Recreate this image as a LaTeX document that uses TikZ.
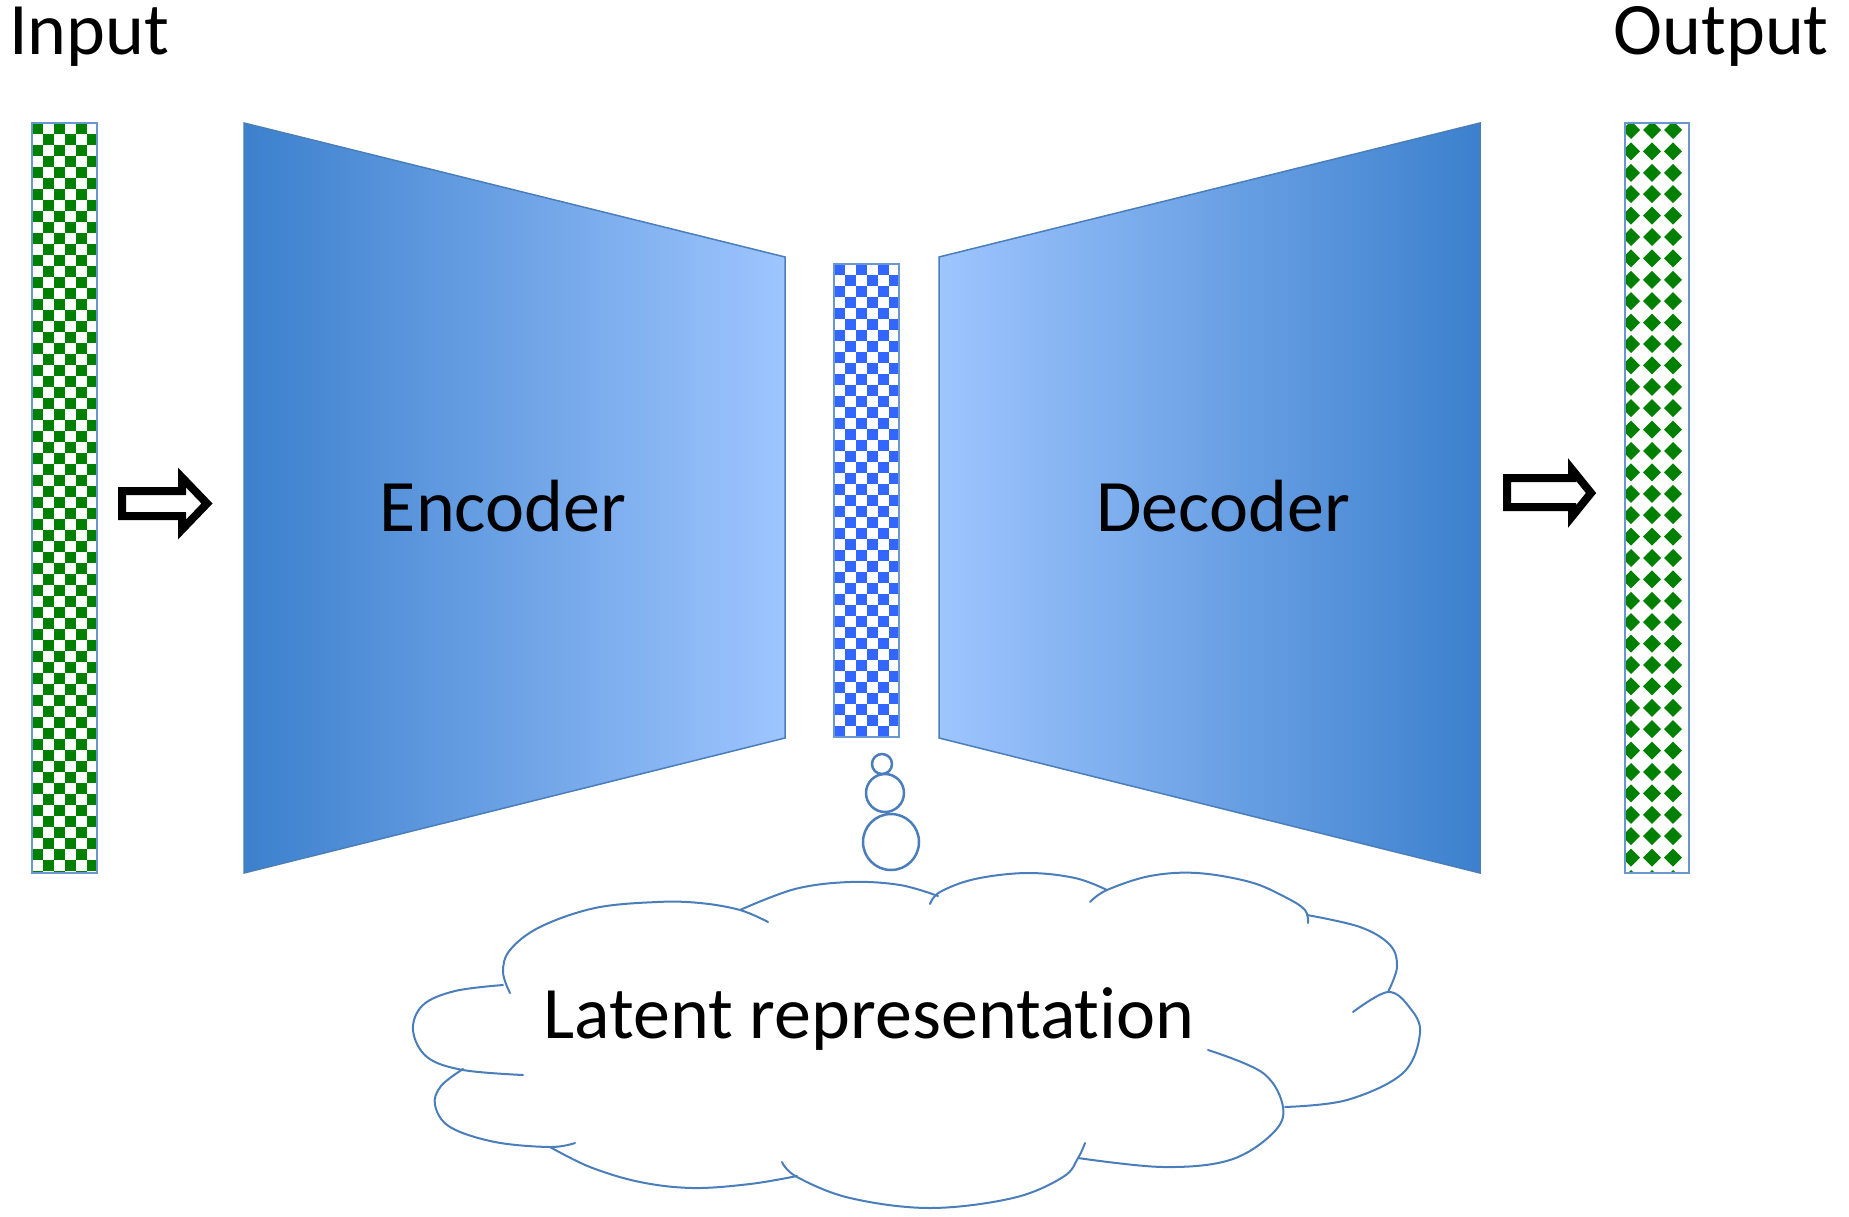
\documentclass[tikz,border=0pt]{standalone}
\usepackage{fontspec}
\setmainfont{Carlito}[Ligatures=NoCommon]
\definecolor{cloudblue}{HTML}{4A7EBB}
\definecolor{barblue}{HTML}{6A97D0}
\definecolor{darkblue}{HTML}{3C80CD}
\definecolor{lightblue}{HTML}{9EC5FE}
\definecolor{pgreen}{HTML}{008000}
\definecolor{pblue}{HTML}{3366FF}
\tikzset{
  lbl/.style={font=\fontsize{74}{80}\selectfont, inner sep=0pt},
  bump/.style={draw=cloudblue, line width=2pt, line cap=round},
  hollowarrow/.style={draw=black, fill=white, line width=8pt, line join=miter, miter limit=10},
  barframe/.style={draw=barblue, line width=2pt},
  trap/.style={draw=cloudblue, line width=1.5pt},
  bubble/.style={draw=cloudblue, line width=2.5pt},
}
\begin{document}
\begin{tikzpicture}[x=1pt,y=-1pt]
\useasboundingbox (0,0) rectangle (1849,1217);
% titles
\node[lbl, anchor=base west] (inp) at (9,55) {Input};
\node[lbl, anchor=base east] (outp) at (1829,55) {Output};
% input bar (checkerboard)
\begin{scope}
  \clip (32,123) rectangle (97,873);
  \fill[white] (32,123) rectangle (97,873);
  \foreach \j in {0,...,68} {
    \pgfmathsetmacro\off{mod(\j,2)*11}
    \foreach \i in {0,22,44,66}
      \fill[pgreen] ({32+\i+\off},{123+\j*11}) rectangle ++(11,11);
  }
\end{scope}
\draw[barframe] (32,123) rectangle (97,873);
% latent bar
\begin{scope}
  \clip (834,264) rectangle (899,737);
  \fill[white] (834,264) rectangle (899,737);
  \foreach \j in {0,...,43} {
    \pgfmathsetmacro\off{mod(\j,2)*11}
    \foreach \i in {0,22,44,66}
      \fill[pblue] ({834+\i+\off},{264+\j*11}) rectangle ++(11,11);
  }
\end{scope}
\draw[barframe] (834,264) rectangle (899,737);
% output bar (diamonds)
\begin{scope}
  \clip (1625,123) rectangle (1689,873);
  \fill[white] (1625,123) rectangle (1689,873);
  \foreach \j in {0,...,35} {
    \foreach \i in {0,1,2}
      \fill[pgreen] ({1631+\i*21},{130+\j*21.4-9}) -- ++(9,9) -- ++(-9,9) -- ++(-9,-9) -- cycle;
  }
\end{scope}
\draw[barframe] (1625,123) rectangle (1689,873);
% encoder / decoder
\path[trap, left color=darkblue, right color=lightblue] (244,123) -- (785,257) -- (785,738) -- (244,873) -- cycle;
\path[trap, left color=lightblue, right color=darkblue] (939,257) -- (1480,123) -- (1480,873) -- (939,738) -- cycle;
\node[lbl, anchor=base] (enc) at (503,531) {Encoder};
\node[lbl, anchor=base] (dec) at (1223,531) {Decoder};
% hollow arrows
\draw[hollowarrow] (122,491) -- (182,491) -- (182,477.5) -- (207,503.5) -- (182,529.5) -- (182,516) -- (122,516) -- cycle;
\draw[hollowarrow] (1507,478) -- (1572,478) -- (1572,469.5) -- (1591,493) -- (1572,516.5) -- (1572,507) -- (1507,507) -- cycle;
% thought bubbles
\draw[bubble] (882,764) circle (10);
\draw[bubble] (885,793) circle (19);
\draw[bubble] (891,842) circle (28);
% cloud
\draw[bump] plot[smooth, tension=0.6] coordinates {(768,922) (740,910) (700,903) (657,902) (595,908) (540,927) (510,950) (503,972) (510,993)};
\draw[bump] plot[smooth, tension=0.6] coordinates {(503,985) (455,991) (423,1005) (413,1030) (427,1057) (463,1070) (523,1075)};
\draw[bump] plot[smooth, tension=0.6] coordinates {(463,1069) (441,1086) (435,1105) (450,1127) (495,1142) (550,1147) (575,1143)};
\draw[bump] plot[smooth, tension=0.6] coordinates {(550,1147) (590,1167) (640,1182) (693,1188) (750,1184) (797,1176)};
\draw[bump] plot[smooth, tension=0.6] coordinates {(782,1162) (797,1177) (850,1198) (930,1208) (1013,1198) (1063,1177) (1078,1158) (1085,1143)};
\draw[bump] plot[smooth, tension=0.6] coordinates {(1208,1050) (1263,1073) (1283,1107) (1273,1133) (1230,1160) (1163,1167) (1078,1158)};
\draw[bump] plot[smooth, tension=0.6] coordinates {(1285,1107) (1347,1100) (1403,1073) (1420,1033) (1410,1008) (1388,992) (1353,1012)};
\draw[bump] plot[smooth, tension=0.6] coordinates {(1388,992) (1397,967) (1390,945) (1360,927) (1307,915)};
\draw[bump] plot[smooth, tension=0.6] coordinates {(1308,923) (1305,910) (1285,897) (1250,882) (1197,873) (1150,876) (1107,890) (1090,902)};
\draw[bump] plot[smooth, tension=0.6] coordinates {(930,904) (940,892) (975,879) (1027,873) (1075,878) (1107,890)};
\draw[bump] plot[smooth, tension=0.6] coordinates {(740,910) (795,889) (850,882) (900,885) (938,896)};
\node[lbl, anchor=base] (lat) at (869,1038) {Latent representation};
\end{tikzpicture}
\end{document}
